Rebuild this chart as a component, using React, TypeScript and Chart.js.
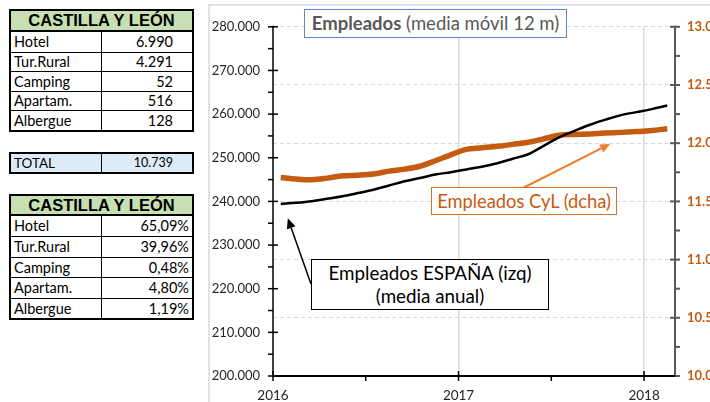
import React, { useEffect, useRef } from 'react';
import { Chart, registerables } from 'chart.js';
Chart.register(...registerables);

// ---------- DATA ----------
const months = [
  '2016-01', '2016-02', '2016-03', '2016-04', '2016-05', '2016-06', '2016-07', '2016-08', '2016-09', '2016-10', '2016-11', '2016-12',
  '2017-01', '2017-02', '2017-03', '2017-04', '2017-05', '2017-06', '2017-07', '2017-08', '2017-09', '2017-10', '2017-11', '2017-12',
  '2018-01', '2018-02',
];
// Empleados ESPAÑA (izq)
const espana = [
  239410, 239680, 240050, 240610, 241200, 241910, 242660, 243640, 244610, 245360, 246140, 246700,
  247320, 247950, 248750, 249770, 250800, 252730, 254660, 256140, 257570, 258730, 259770, 260450,
  261140, 261950,
];
// Empleados CyL (dcha)
const cyl = [
  11706, 11692, 11686, 11700, 11720, 11725, 11735, 11760, 11777, 11802, 11849, 11900,
  11947, 11960, 11973, 11990, 12008, 12037, 12068, 12075, 12080, 12087, 12093, 12100,
  12109, 12124,
];
const yearTicks = [2016, 2017, 2018];
const leftMin = 200000, leftMax = 280000, leftStep = 10000;
const rightMin = 10000, rightMax = 13000, rightStep = 500;

const tableCats = ['Hotel', 'Tur.Rural', 'Camping', 'Apartam.', 'Albergue'];
const plazas = [6990, 4291, 52, 516, 128];
const totalPlazas = 10739;
const shares = [65.09, 39.96, 0.48, 4.80, 1.19];

const titleBold = 'Empleados';
const titleRest = ' (media móvil 12 m)';
const labelCyl = 'Empleados CyL (dcha)';
const labelEsp1 = 'Empleados ESPAÑA (izq)';
const labelEsp2 = '(media anual)';

// arrow heads in data coordinates
const cylArrowHead = { x: 2017.817, y: 11994 };
const espArrowHead = { x: 2016.08, y: 236140 };

// ---------- helpers ----------
const fmtThousands = (n: number) => String(Math.round(n)).replace(/\B(?=(\d{3})+(?!\d))/g, '.');
const fmtPct = (n: number) => n.toFixed(2).replace('.', ',') + '%';
const monthToX = (m: string) => {
  const [y, mo] = m.split('-').map(Number);
  return y + (mo - 0.5) / 12;
};

const CANVAS_LEFT = 210;
const CANVAS_TOP = 6;
const CANVAS_W = 500;
const CANVAS_H = 396;

const FONT = "Lato, 'Open Sans', sans-serif";
const CYL_COLOR = '#C55A11';

function drawArrow(ctx: CanvasRenderingContext2D, x0: number, y0: number, x1: number, y1: number, color: string, w: number) {
  const ang = Math.atan2(y1 - y0, x1 - x0);
  const hl = 10, hw = 4.5;
  const bx = x1 - Math.cos(ang) * hl, by = y1 - Math.sin(ang) * hl;
  ctx.strokeStyle = color;
  ctx.fillStyle = color;
  ctx.lineWidth = w;
  ctx.beginPath();
  ctx.moveTo(x0, y0);
  ctx.lineTo(bx, by);
  ctx.stroke();
  ctx.beginPath();
  ctx.moveTo(x1, y1);
  ctx.lineTo(bx + Math.sin(ang) * hw, by - Math.cos(ang) * hw);
  ctx.lineTo(bx - Math.sin(ang) * hw, by + Math.cos(ang) * hw);
  ctx.closePath();
  ctx.fill();
}

const decoPlugin = {
  id: 'deco',
  afterDatasetsDraw(chart: any) {
    const { ctx, chartArea: a, scales } = chart;
    const yl = scales.yL, yr = scales.yR, xs = scales.x;
    const line = (x0: number, y0: number, x1: number, y1: number) => {
      ctx.beginPath(); ctx.moveTo(x0, y0); ctx.lineTo(x1, y1); ctx.stroke();
    };
    ctx.save();
    // left axis
    ctx.strokeStyle = '#000';
    ctx.lineWidth = 1.5;
    line(a.left, a.top - 1, a.left, a.bottom);
    for (let v = leftMin; v <= leftMax; v += leftStep / 2) {
      const y = yl.getPixelForValue(v);
      if ((v - leftMin) % leftStep === 0) line(a.left - 5, y, a.left + 5, y);
      else line(a.left - 5, y, a.left, y);
    }
    // right axis
    ctx.strokeStyle = '#595959';
    ctx.lineWidth = 2;
    line(a.right, a.top - 1, a.right, a.bottom);
    for (let v = rightMin; v <= rightMax; v += rightStep / 2) {
      const y = yr.getPixelForValue(v);
      if ((v - rightMin) % rightStep === 0) line(a.right - 5, y, a.right + 5, y);
      else line(a.right, y, a.right + 5, y);
    }
    // x axis
    ctx.strokeStyle = '#000';
    ctx.lineWidth = 2;
    line(a.left, a.bottom, a.right, a.bottom);
    ctx.lineWidth = 1.5;
    yearTicks.forEach((yr0) => {
      const x = xs.getPixelForValue(yr0);
      line(x, a.bottom - 5, x, a.bottom + 5);
      const xm = xs.getPixelForValue(yr0 + 0.5);
      if (xm < a.right - 1) line(xm, a.bottom, xm, a.bottom + 5);
    });
    // arrows
    drawArrow(ctx, 523 - CANVAS_LEFT, 188 - CANVAS_TOP,
      xs.getPixelForValue(cylArrowHead.x), yr.getPixelForValue(cylArrowHead.y), '#ED7D31', 2);
    drawArrow(ctx, 311 - CANVAS_LEFT, 284 - CANVAS_TOP,
      xs.getPixelForValue(espArrowHead.x), yl.getPixelForValue(espArrowHead.y), '#000', 1.5);
    ctx.restore();
  },
};

function ChartCanvas() {
  const ref = useRef<HTMLCanvasElement>(null);
  useEffect(() => {
    if (!ref.current) return;
    const xs = months.map(monthToX);
    const chart = new Chart(ref.current, {
      type: 'line',
      data: {
        datasets: [
          {
            label: labelEsp1,
            data: espana.map((v, i) => ({ x: xs[i], y: v })),
            yAxisID: 'yL',
            borderColor: '#000',
            borderWidth: 2.5,
            pointRadius: 0,
            tension: 0.35,
            order: 0,
          },
          {
            label: labelCyl,
            data: cyl.map((v, i) => ({ x: xs[i], y: v })),
            yAxisID: 'yR',
            borderColor: CYL_COLOR,
            borderWidth: 5.5,
            pointRadius: 0,
            tension: 0.35,
            order: 1,
          },
        ],
      },
      options: {
        animation: false,
        responsive: false,
        maintainAspectRatio: false,
        devicePixelRatio: 1,
        layout: { padding: { top: 18, left: 0, right: 0, bottom: 0 } },
        plugins: { legend: { display: false }, tooltip: { enabled: false }, title: { display: false } },
        scales: {
          x: {
            type: 'linear',
            min: yearTicks[0],
            max: yearTicks[0] + months.length / 12,
            ticks: {
              stepSize: 1,
              includeBounds: false,
              padding: 12,
              color: '#262626',
              font: { family: FONT, size: 13.5 },
              callback: (v: any) => String(v),
              maxRotation: 0,
            },
            grid: {
              drawTicks: false,
              lineWidth: 1.5,
              color: (c: any) => (c.tick && c.tick.value > yearTicks[0] ? '#d9d9d9' : 'rgba(0,0,0,0)'),
            },
            border: { display: false },
            afterFit: (s: any) => { s.height = 26; },
          },
          yL: {
            type: 'linear',
            position: 'left',
            min: leftMin,
            max: leftMax,
            ticks: {
              stepSize: leftStep,
              padding: 13,
              color: '#262626',
              font: { family: FONT, size: 13 },
              callback: (v: any) => fmtThousands(v),
            },
            grid: { display: false, drawTicks: false },
            border: { display: false },
            afterFit: (s: any) => { s.width = 63; },
          },
          yR: {
            type: 'linear',
            position: 'right',
            min: rightMin,
            max: rightMax,
            ticks: {
              stepSize: rightStep,
              padding: 12,
              color: CYL_COLOR,
              font: { family: FONT, size: 13, weight: 'bold' },
              callback: (v: any) => fmtThousands(v),
            },
            grid: { color: '#d9d9d9', lineWidth: 1, drawTicks: false },
            border: { display: false, dash: [4, 3] },
            afterFit: (s: any) => { s.width = 35; },
          },
        },
      } as any,
      plugins: [decoPlugin],
    });
    return () => chart.destroy();
  }, []);
  return (
    <canvas
      ref={ref}
      width={CANVAS_W}
      height={CANVAS_H}
      style={{ position: 'absolute', left: CANVAS_LEFT, top: CANVAS_TOP, width: CANVAS_W, height: CANVAS_H }}
    />
  );
}

const rowFont = `14.5px ${FONT}`;

function DataTable({ top, headH, rowHs, values, padRight }: { top: number; headH: number; rowHs: number[]; values: string[]; padRight: number }) {
  return (
    <div style={{ position: 'absolute', left: 9, top, width: 185, border: '2px solid #000', boxSizing: 'border-box', background: '#fff', color: '#000' }}>
      <div style={{ height: headH, background: '#C6E0B4', borderBottom: '2px solid #000', font: "bold 16.5px 'Liberation Sans', Arial, sans-serif", textAlign: 'center', lineHeight: headH + 'px', boxSizing: 'content-box' }}>
        CASTILLA Y LEÓN
      </div>
      {tableCats.map((c, i) => (
        <div key={c} style={{ display: 'flex', height: rowHs[i], borderTop: i ? '1px solid #000' : 'none', boxSizing: 'border-box', font: rowFont, lineHeight: (rowHs[i] - (i ? 1 : 0)) + 'px' }}>
          <div style={{ width: 91, borderRight: '1px solid #000', paddingLeft: 3, boxSizing: 'border-box' }}>{c}</div>
          <div style={{ flex: 1, textAlign: 'right', paddingRight: padRight }}>{values[i]}</div>
        </div>
      ))}
    </div>
  );
}

export default function App() {
  return (
    <div style={{ position: 'fixed', left: 0, top: 0, width: 710, height: 402, background: '#fff', overflow: 'hidden' }}>
      {/* chart frame */}
      <div style={{ position: 'absolute', left: 208, top: 4, width: 2, height: 398, background: '#e3e3e3' }} />
      <div style={{ position: 'absolute', left: 208, top: 4, width: 502, height: 2, background: '#e3e3e3' }} />
      <ChartCanvas />

      {/* title box */}
      <div style={{ position: 'absolute', left: 304, top: 9, width: 263, height: 29, border: '1px solid #5B87D0', boxSizing: 'border-box', background: '#fff', color: '#595959', font: `18.5px ${FONT}`, lineHeight: '27px', textAlign: 'center', whiteSpace: 'nowrap' }}>
        <b>{titleBold}</b>{titleRest}
      </div>

      {/* CyL label */}
      <div style={{ position: 'absolute', left: 431, top: 187, width: 186, height: 28, border: '1px solid #D0702A', boxSizing: 'border-box', background: '#fff', color: CYL_COLOR, font: `18.3px ${FONT}`, lineHeight: '26px', textAlign: 'center', whiteSpace: 'nowrap' }}>
        {labelCyl}
      </div>

      {/* España label */}
      <div style={{ position: 'absolute', left: 311, top: 259, width: 238, height: 51, border: '1px solid #000', boxSizing: 'border-box', background: '#fff', color: '#000', font: `18.8px ${FONT}`, lineHeight: '23px', textAlign: 'center', whiteSpace: 'nowrap', paddingTop: 1 }}>
        {labelEsp1}<br />{labelEsp2}
      </div>

      {/* tables */}
      <DataTable top={9} headH={19} rowHs={[20, 19, 20, 19, 20]} values={plazas.map(fmtThousands)} padRight={19} />

      <div style={{ position: 'absolute', left: 9, top: 152, width: 185, height: 22, border: '2px solid #000', boxSizing: 'border-box', background: '#DDEBF7', display: 'flex', color: '#000', font: `13.5px ${FONT}`, lineHeight: '18px' }}>
        <div style={{ width: 91, borderRight: '1px solid #000', paddingLeft: 3, boxSizing: 'border-box' }}>TOTAL</div>
        <div style={{ flex: 1, textAlign: 'right', paddingRight: 19, fontSize: 12.5 }}>{fmtThousands(totalPlazas)}</div>
      </div>

      <DataTable top={194} headH={18} rowHs={[20, 21, 20, 21, 20]} values={shares.map(fmtPct)} padRight={3} />
    </div>
  );
}
